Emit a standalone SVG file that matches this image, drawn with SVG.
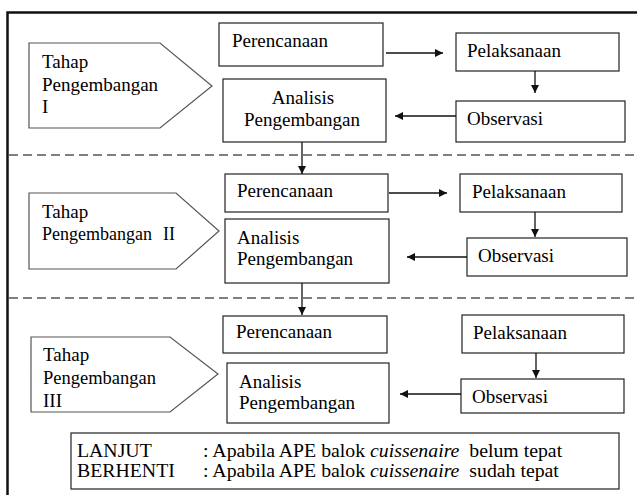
<svg xmlns="http://www.w3.org/2000/svg" width="637" height="495" viewBox="0 0 637 495">
<style>
.box{fill:#fff;stroke:#222;stroke-width:1.2}
.pent{fill:#fff;stroke:#555;stroke-width:1.2}
.dash{stroke:#555;stroke-width:1.5;stroke-dasharray:9 5;fill:none}
.con{stroke:#111;stroke-width:1.3;fill:none}
</style>
<defs>
<marker id="ah" viewBox="0 0 10 10" refX="10" refY="5" markerWidth="8" markerHeight="8" markerUnits="userSpaceOnUse" orient="auto">
<path d="M0,0 L10,5 L0,10 Z" fill="#111"/>
</marker>
</defs>
<rect width="637" height="495" fill="#fff"/>
<g id="frame">
<path d="M7.5,495 V12.5 H640" fill="none" stroke="#111" stroke-width="2.5"/>
<line class="dash" x1="9" y1="155" x2="637" y2="155"/>
<line class="dash" x1="9" y1="298" x2="637" y2="298"/>
</g>
<g font-family="Liberation Serif" font-size="19" fill="#000">
<g id="stage1">
<polygon class="pent" points="29,43 160,43 212,86 160,128 29,128"/>
<text x="42" y="68">Tahap</text>
<text x="42" y="91">Pengembangan</text>
<text x="42" y="113">I</text>
</g>
<g id="perencanaan1"><rect class="box" x="219" y="23" width="164" height="43"/><text x="232" y="47">Perencanaan</text></g>
<g id="analisis1"><rect class="box" x="223" y="79" width="163" height="63"/><text x="303" y="104" text-anchor="middle">Analisis</text><text x="302" y="126" text-anchor="middle">Pengembangan</text></g>
<g id="pelaksanaan1"><rect class="box" x="456" y="33" width="163" height="38"/><text x="467" y="57">Pelaksanaan</text></g>
<g id="observasi1"><rect class="box" x="456" y="101" width="169" height="41"/><text x="467" y="125">Observasi</text></g>
<g id="stage2">
<polygon class="pent" points="29,193 176,193 219,231 176,269 29,269"/>
<text x="42" y="218">Tahap</text>
<text x="42" y="240" font-size="18">Pengembangan <tspan x="163">II</tspan></text>
</g>
<g id="perencanaan2"><rect class="box" x="225" y="174" width="163" height="38"/><text x="237" y="197">Perencanaan</text></g>
<g id="analisis2"><rect class="box" x="225" y="219" width="164" height="64"/><text x="237" y="244">Analisis</text><text x="237" y="265">Pengembangan</text></g>
<g id="pelaksanaan2"><rect class="box" x="460" y="174" width="162" height="38"/><text x="472" y="198">Pelaksanaan</text></g>
<g id="observasi2"><rect class="box" x="467" y="238" width="160" height="38"/><text x="478" y="262">Observasi</text></g>
<g id="stage3">
<polygon class="pent" points="31,337 170,337 218,374 170,412 31,412"/>
<text x="43" y="361">Tahap</text>
<text x="43" y="384" font-size="18.5">Pengembangan</text>
<text x="43" y="407">III</text>
</g>
<g id="perencanaan3"><rect class="box" x="223" y="316" width="164" height="37"/><text x="236" y="338">Perencanaan</text></g>
<g id="analisis3"><rect class="box" x="227" y="363" width="162" height="60"/><text x="239" y="388">Analisis</text><text x="239" y="409">Pengembangan</text></g>
<g id="pelaksanaan3"><rect class="box" x="462" y="315" width="162" height="38"/><text x="473" y="339">Pelaksanaan</text></g>
<g id="observasi3"><rect class="box" x="461" y="379" width="163" height="34"/><text x="472" y="403">Observasi</text></g>
<g id="legend" font-size="19.8">
<rect class="box" x="71" y="433" width="548" height="56"/>
<text x="77" y="457">LANJUT</text>
<text x="203" y="457" xml:space="preserve">: Apabila APE balok <tspan font-style="italic">cuissenaire</tspan>  belum tepat</text>
<text x="77" y="477">BERHENTI</text>
<text x="203" y="477" xml:space="preserve">: Apabila APE balok <tspan font-style="italic">cuissenaire</tspan>  sudah tepat</text>
</g>
</g>
<g id="connectors">
<line class="con" x1="386" y1="53" x2="443" y2="53" marker-end="url(#ah)"/>
<line class="con" x1="535" y1="71" x2="535" y2="93" marker-end="url(#ah)"/>
<line class="con" x1="456" y1="116" x2="395" y2="116" marker-end="url(#ah)"/>
<line class="con" x1="302" y1="142" x2="302" y2="174" marker-end="url(#ah)"/>
<line class="con" x1="389" y1="193" x2="447" y2="193" marker-end="url(#ah)"/>
<line class="con" x1="535" y1="212" x2="535" y2="237" marker-end="url(#ah)"/>
<line class="con" x1="467" y1="257" x2="407" y2="257" marker-end="url(#ah)"/>
<line class="con" x1="302" y1="283" x2="302" y2="315" marker-end="url(#ah)"/>
<line class="con" x1="536" y1="353" x2="536" y2="378" marker-end="url(#ah)"/>
<line class="con" x1="461" y1="394" x2="400" y2="394" marker-end="url(#ah)"/>
</g>
</svg>
